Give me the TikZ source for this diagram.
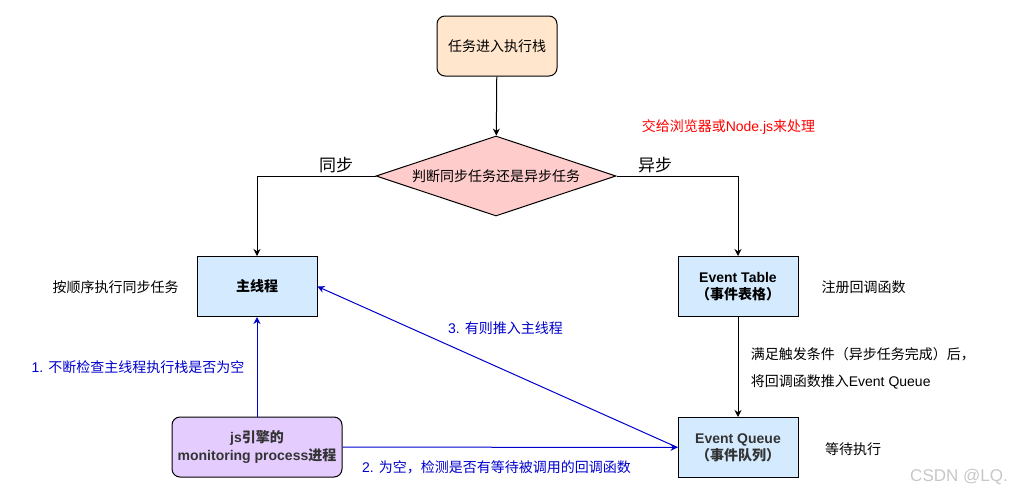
\documentclass[tikz,border=0pt]{standalone}
\usepackage{fontspec}
\setmainfont{Noto Sans CJK SC}
\newfontfamily\lat{Liberation Sans}
\usetikzlibrary{shapes.geometric,arrows.meta}
\definecolor{peach}{HTML}{FFE6CC}
\definecolor{rosy}{HTML}{FFCCCC}
\definecolor{sky}{HTML}{D4EAFE}
\definecolor{lilac}{HTML}{E5CCFF}
\definecolor{navy}{HTML}{0000CC}
\definecolor{ink}{HTML}{333333}
\begin{document}
\begin{tikzpicture}[x=1pt,y=-1pt,line width=1pt,font=\fontsize{14}{17}\selectfont,
  box/.style={draw,minimum width=120pt,minimum height=60pt,align=center,inner sep=0pt},
  arr/.style={-{Stealth[length=7pt,width=7pt]}},
  blue arr/.style={arr,draw=navy},
  note/.style={text=navy}]
\useasboundingbox (0,0) rectangle (1023,493);
% boxes
\node[box,fill=peach,rounded corners=8pt] (task) at (497,46) {任务进入执行栈};
\node[draw,diamond,aspect=3,fill=rosy,minimum width=240pt,minimum height=80pt,inner sep=0pt] (judge) at (496,176) {判断同步任务还是异步任务};
\node[box,fill=sky,font=\fontsize{14}{17}\selectfont\bfseries] (main) at (257,286.5) {主线程};
\node[box,fill=sky,font=\fontsize{14}{17}\selectfont\bfseries] (table) at (738,286.5) {{\lat Event Table}\\（事件表格）};
\node[box,fill=sky,text=ink,font=\fontsize{14}{17}\selectfont\bfseries] (queue) at (738,447.5) {{\lat Event Queue}\\（事件队列）};
\node[box,fill=lilac,text=ink,minimum width=170pt,rounded corners=8pt,font=\fontsize{14}{18}\selectfont\bfseries] (js) at (257,447) {{\lat js}引擎的\\{\lat monitoring process}进程};
% texts
\node[font=\fontsize{17}{20}\selectfont] (sync) at (336,165) {同步};
\node[font=\fontsize{17}{20}\selectfont] (async) at (655,165) {异步};
\node[text=red] (browser) at (728.5,127) {交给浏览器或{\lat Node.js}来处理};
\node (order) at (115.5,287) {按顺序执行同步任务};
\node (register) at (863.5,287) {注册回调函数};
\node[anchor=west] (trigger) at (747,354) {满足触发条件（异步任务完成）后，};
\node[anchor=west] (push) at (747,382) {将回调函数推入{\lat Event Queue}};
\node (wait) at (853,449) {等待执行};
\node[note] (check) at (138,367) {{\lat 1. }不断检查主线程执行栈是否为空};
\node[note] (detect) at (496.5,467) {{\lat 2. }为空，检测是否有等待被调用的回调函数};
\node[note] (insert) at (505.5,328) {{\lat 3. }有则推入主线程};
\node[text=black!22,font=\fontsize{17}{20}\selectfont\lat] (mark) at (959,477) {CSDN @LQ.};
% connectors
\draw[arr] (task) -- (judge);
\draw[arr] (judge.west) -| (main);
\draw[arr] (judge.east) -| (table);
\draw[arr] (table) -- (queue);
\draw[blue arr] (js) -- (main);
\draw[blue arr] (js) -- (queue);
\draw[blue arr] (queue.west) -- (main.east);
\end{tikzpicture}
\end{document}
